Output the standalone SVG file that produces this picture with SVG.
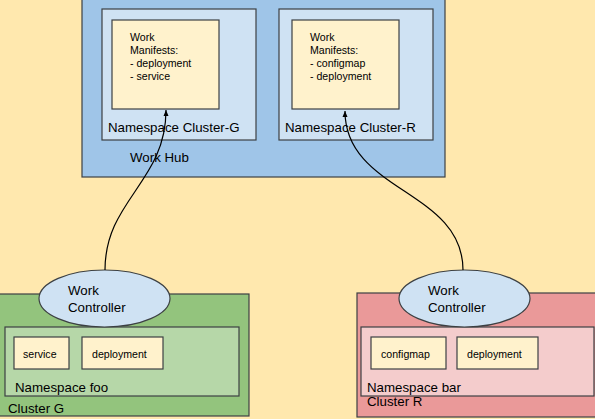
<svg xmlns="http://www.w3.org/2000/svg" width="595" height="419" viewBox="0 0 595 419">
<defs>
<style>
text{font-family:"Liberation Sans",Arial,sans-serif;fill:#000}
.lbl{font-size:13.3px}
.sm{font-size:10.6px}
.box{stroke:#3c4043;stroke-width:1.2}
.conn{fill:none;stroke:#000;stroke-width:1.2}
</style>
<marker id="arr" markerWidth="8" markerHeight="8" refX="6" refY="3" orient="auto" markerUnits="userSpaceOnUse">
<path d="M0,0.5 L6,3 L0,5.5 Z" fill="#000"/>
</marker>
</defs>
<rect x="0" y="0" width="595" height="419" fill="#ffe8ae"/>
<g id="work-hub">
<rect class="box" x="82" y="-5" width="363" height="182" fill="#9fc5e8"/>
<text class="lbl" x="130" y="162">Work Hub</text>
</g>
<g id="ns-cluster-g">
<rect class="box" x="102" y="9" width="154" height="131" fill="#cfe2f3"/>
<text class="lbl" x="108" y="131.5">Namespace Cluster-G</text>
</g>
<g id="manifest-g">
<rect class="box" x="112" y="20" width="107" height="89" fill="#fff2cc"/>
<text class="sm" x="130" y="40.5">Work</text>
<text class="sm" x="130" y="53.8">Manifests:</text>
<text class="sm" x="130" y="67.1">- deployment</text>
<text class="sm" x="130" y="80.4">- service</text>
</g>
<g id="ns-cluster-r">
<rect class="box" x="279" y="9" width="154" height="131" fill="#cfe2f3"/>
<text class="lbl" x="285" y="131.5">Namespace Cluster-R</text>
</g>
<g id="manifest-r">
<rect class="box" x="292" y="20" width="107" height="89" fill="#fff2cc"/>
<text class="sm" x="310" y="40.5">Work</text>
<text class="sm" x="310" y="53.8">Manifests:</text>
<text class="sm" x="310" y="67.1">- configmap</text>
<text class="sm" x="310" y="80.4">- deployment</text>
</g>
<g id="cluster-g">
<rect class="box" x="-1" y="294" width="250" height="122" fill="#93c47d"/>
<text class="lbl" x="8" y="413">Cluster G</text>
</g>
<g id="ns-foo">
<rect class="box" x="5" y="327" width="234" height="69" fill="#b6d7a8"/>
<text class="lbl" x="15" y="392">Namespace foo</text>
</g>
<g id="res-service">
<rect class="box" x="14" y="337" width="55" height="32" fill="#fff2cc"/>
<text class="sm" x="23" y="357.5">service</text>
</g>
<g id="res-deployment-g">
<rect class="box" x="82" y="337" width="81" height="32" fill="#fff2cc"/>
<text class="sm" x="92" y="357.5">deployment</text>
</g>
<g id="cluster-r">
<rect class="box" x="357" y="293" width="240" height="124" fill="#ea9999"/>
<text class="lbl" x="367" y="406">Cluster R</text>
</g>
<g id="ns-bar">
<rect class="box" x="361" y="327" width="233" height="69" fill="#f4cccc"/>
<text class="lbl" x="367" y="392">Namespace bar</text>
</g>
<g id="res-configmap">
<rect class="box" x="371" y="337" width="75" height="32" fill="#fff2cc"/>
<text class="sm" x="381" y="357.5">configmap</text>
</g>
<g id="res-deployment-r">
<rect class="box" x="457" y="337" width="81" height="32" fill="#fff2cc"/>
<text class="sm" x="467" y="357.5">deployment</text>
</g>
<g id="controller-g">
<ellipse class="box" cx="104.5" cy="298.5" rx="65.5" ry="28.5" fill="#cfe2f3"/>
<text class="lbl" x="68" y="295">Work</text>
<text class="lbl" x="68" y="311.5">Controller</text>
</g>
<g id="controller-r">
<ellipse class="box" cx="464.5" cy="298.5" rx="65.5" ry="28.5" fill="#cfe2f3"/>
<text class="lbl" x="428" y="295">Work</text>
<text class="lbl" x="428" y="311.5">Controller</text>
</g>
<g id="connectors">
<path class="conn" d="M105,270 C105,200 166,182 166,110" marker-end="url(#arr)"/>
<path class="conn" d="M463,270 C463,190 345,192 345,111" marker-end="url(#arr)"/>
</g>
</svg>
